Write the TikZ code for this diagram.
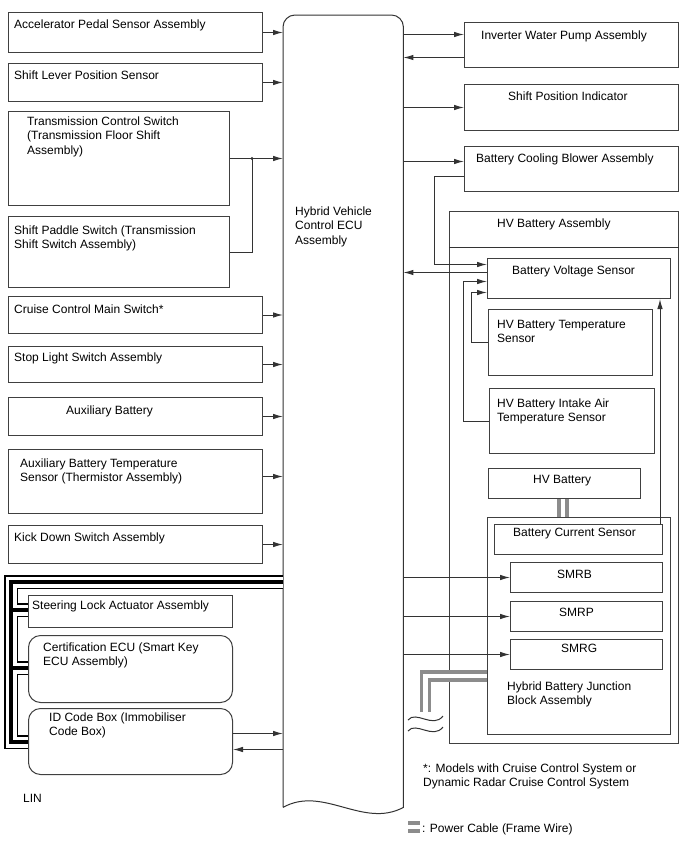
\documentclass[tikz,border=0pt]{standalone}
\usepackage{fontspec}
\setmainfont{Liberation Sans}
\usetikzlibrary{arrows.meta}

\tikzset{
  blk/.style={draw=black!75, line width=1pt, anchor=north west, inner sep=0pt},
  rblk/.style={blk, rounded corners=12pt},
  txt/.style={anchor=base west, align=left, inner sep=0pt, font=\fontsize{12}{14.5}\selectfont},
  arr/.style={draw=black!80, line width=1pt, -{Latex[length=10pt,width=5.5pt]}},
  wire/.style={draw=black!80, line width=1pt},
  cable/.style={draw=black!45, line width=3.5pt, double=white, double distance=4.5pt},
}

\begin{document}
\begin{tikzpicture}[x=1pt,y=-1pt]
  \useasboundingbox (0,0) rectangle (688,852);

  % ECU body
  \node[anchor=north west, minimum width=120pt, minimum height=792pt, inner sep=0pt] (ecu) at (283,15) {};
  \draw[wire] (ecu.south west) [rounded corners=12pt] -- (ecu.north west) -- (ecu.north east) [sharp corners] -- (ecu.south east)
    .. controls (363,829) and (323,785) .. (ecu.south west);
  \node[txt] (t-ecu) at (295,244) {Hybrid Vehicle\\Control ECU\\Assembly};

  % LIN bus
  \foreach \w/\c in {14pt/black, 11pt/white, 4pt/black} {
    \draw[line width=\w, \c] (ecu.west |- 0,582) -- (11,582) -- (11,742) -- (28,742);
    \draw[line width=\w, \c] (11,610) -- (28,610);
    \draw[line width=\w, \c] (11,668) -- (28,668);
  }

  % left side
  \node[blk, minimum width=254pt, minimum height=40pt] (aps) at (8,12) {};
  \node[blk, minimum width=254pt, minimum height=38pt] (slp) at (8,63) {};
  \node[blk, minimum width=221pt, minimum height=94pt] (tcs) at (8,111) {};
  \node[blk, minimum width=221pt, minimum height=71pt] (sps) at (8,216) {};
  \node[blk, minimum width=254pt, minimum height=37pt] (ccs) at (8,296) {};
  \node[blk, minimum width=254pt, minimum height=36pt] (sls) at (8,346) {};
  \node[blk, minimum width=254pt, minimum height=38pt] (aux) at (8,397) {};
  \node[blk, minimum width=254pt, minimum height=64pt] (atb) at (8,449) {};
  \node[blk, minimum width=254pt, minimum height=38pt] (kds) at (8,525) {};
  \node[blk, minimum width=204pt, minimum height=32pt] (sla) at (28,595) {};
  \node[rblk, minimum width=204pt, minimum height=67pt] (cert) at (28,635) {};
  \node[rblk, minimum width=204pt, minimum height=66pt] (idb) at (28,708) {};

  \node[txt] (t-aps) at (14,28) {Accelerator Pedal Sensor Assembly};
  \node[txt] (t-slp) at (14,79) {Shift Lever Position Sensor};
  \node[txt] (t-tcs) at (27,154) {Transmission Control Switch\\(Transmission Floor Shift\\Assembly)};
  \node[txt] (t-sps) at (14,248.5) {Shift Paddle Switch (Transmission\\Shift Switch Assembly)};
  \node[txt] (t-ccs) at (14,313) {Cruise Control Main Switch*};
  \node[txt] (t-sls) at (14,361) {Stop Light Switch Assembly};
  \node[txt] (t-aux) at (66,414) {Auxiliary Battery};
  \node[txt] (t-atb) at (20,481.5) {Auxiliary Battery Temperature\\Sensor (Thermistor Assembly)};
  \node[txt] (t-kds) at (14,541) {Kick Down Switch Assembly};
  \node[txt] (t-sla) at (32,609) {Steering Lock Actuator Assembly};
  \node[txt] (t-cert) at (43,665.5) {Certification ECU (Smart Key\\ECU Assembly)};
  \node[txt] (t-idb) at (49,735.5) {ID Code Box (Immobiliser\\Code Box)};
  \node[txt] (t-lin) at (23,802) {LIN};

  \draw[arr] (aps.east) -- (aps.east -| ecu.west);
  \draw[arr] (slp.east) -- (slp.east -| ecu.west);
  \coordinate (jn) at ([xshift=22pt]tcs.east);
  \draw[arr] (tcs.east) -- (tcs.east -| ecu.west);
  \draw[wire] (sps.east) -| (jn);
  \fill[black!80] (jn) circle (1.6pt);
  \draw[arr] (ccs.east) -- (ccs.east -| ecu.west);
  \draw[arr] (sls.east) -- (sls.east -| ecu.west);
  \draw[arr] (aux.east) -- (aux.east -| ecu.west);
  \draw[arr] ([yshift=5pt]atb.east) -- ([yshift=5pt]atb.east -| ecu.west);
  \draw[arr] (kds.east) -- (kds.east -| ecu.west);
  \draw[arr] ([yshift=8pt]idb.east) -- ([yshift=8pt]idb.east -| ecu.west);
  \draw[arr] ([yshift=-8pt]idb.east -| ecu.west) -- ([yshift=-8pt]idb.east);

  % right side
  \node[blk, minimum width=214pt, minimum height=45pt] (iwp) at (464,22) {};
  \node[blk, minimum width=214pt, minimum height=46pt] (spi) at (464,84) {};
  \node[blk, minimum width=214pt, minimum height=45pt] (bcb) at (464,146) {};
  \node[blk, minimum width=229pt, minimum height=532pt] (hva) at (449,211) {};
  \draw[wire] (hva.west |- 0,247) -- (hva.east |- 0,247);
  \node[blk, minimum width=183pt, minimum height=40pt] (bvs) at (487,258) {};
  \node[blk, minimum width=164pt, minimum height=66pt] (hvt) at (488,309) {};
  \node[blk, minimum width=165pt, minimum height=65pt] (iat) at (489,388) {};
  \node[blk, minimum width=152pt, minimum height=30pt] (hvb) at (488,468) {};
  \node[blk, minimum width=183pt, minimum height=217pt] (hbj) at (487,517) {};
  \node[blk, minimum width=168pt, minimum height=30pt] (bcs) at (494,524) {};
  \node[blk, minimum width=152pt, minimum height=30pt] (smrb) at (510,562) {};
  \node[blk, minimum width=152pt, minimum height=30pt] (smrp) at (510,601) {};
  \node[blk, minimum width=152pt, minimum height=30pt] (smrg) at (510,639) {};

  \node[txt] (t-iwp) at (481,39) {Inverter Water Pump Assembly};
  \node[txt] (t-spi) at (508,100) {Shift Position Indicator};
  \node[txt] (t-bcb) at (476,162) {Battery Cooling Blower Assembly};
  \node[txt] (t-hva) at (497,227) {HV Battery Assembly};
  \node[txt] (t-bvs) at (512,274) {Battery Voltage Sensor};
  \node[txt] (t-hvt) at (497,342.5) {HV Battery Temperature\\Sensor};
  \node[txt] (t-iat) at (497,421.5) {HV Battery Intake Air\\Temperature Sensor};
  \node[txt] (t-hvb) at (533,483) {HV Battery};
  \node[txt] (t-bcs) at (513,536) {Battery Current Sensor};
  \node[txt] (t-smrb) at (557,578) {SMRB};
  \node[txt] (t-smrp) at (559,616) {SMRP};
  \node[txt] (t-smrg) at (561,652) {SMRG};
  \node[txt] (t-hbj) at (507,704.5) {Hybrid Battery Junction\\Block Assembly};

  \draw[arr] ([yshift=10.5pt]iwp.west -| ecu.east) -- ([yshift=10.5pt]iwp.west);
  \draw[arr] ([yshift=-12.5pt]iwp.west) -- ([yshift=-12.5pt]iwp.west -| ecu.east);
  \draw[arr] (spi.west -| ecu.east) -- (spi.west);
  \draw[arr] ([yshift=7.5pt]bcb.west -| ecu.east) -- ([yshift=7.5pt]bcb.west);
  \draw[arr] ([yshift=-7.5pt]bcb.west) -- ++(-30,0) |- ([yshift=14pt]bvs.west);
  \draw[arr] ([yshift=6pt]bvs.west) -- ([yshift=6pt]bvs.west -| ecu.east);
  \draw[arr] (iat.west) -- ++(-26,0) |- ([yshift=-3pt]bvs.west);
  \draw[arr] (hvt.west) -- ++(-17,0) |- ([yshift=-14pt]bvs.west);
  \draw[arr] ([xshift=-3pt]bcs.north east) -- ([xshift=-3pt]bcs.north east |- bvs.south);
  \draw[arr] (smrb.west -| ecu.east) -- (smrb.west);
  \draw[arr] (smrp.west -| ecu.east) -- (smrp.west);
  \draw[arr] (smrg.west -| ecu.east) -- (smrg.west);

  % power cables
  \draw[cable] ([xshift=75pt]hvb.south west) -- ([xshift=75pt]hvb.south west |- hbj.north);
  \draw[cable] (hbj.west |- 0,676) -| (425.5,728);
  \draw[wire, fill=white, draw=none] (406,712) rectangle (445,731);
  \draw[cable] (hbj.west |- 0,676) -| (425.5,712);
  \draw[wire] (408,720) .. controls (416,710) and (433,729) .. (443,716);
  \draw[wire] (408,731) .. controls (416,721) and (433,740) .. (443,727);

  % notes
  \node[txt] (t-note) at (423,786.5) {*: Models with Cruise Control System or\\Dynamic Radar Cruise Control System};
  \draw[cable] (408,827) -- (420,827);
  \node[txt] (t-pwr) at (422,832) {: Power Cable (Frame Wire)};
\end{tikzpicture}
\end{document}
